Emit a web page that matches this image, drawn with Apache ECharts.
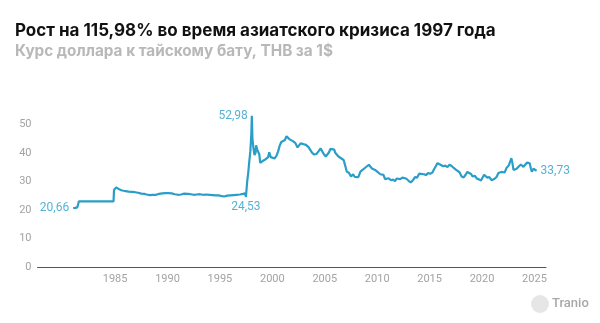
<!DOCTYPE html>
<html><head><meta charset="utf-8">
<script src="https://cdn.jsdelivr.net/npm/echarts@6/dist/echarts.min.js"></script>
<style>html,body{margin:0;padding:0;background:#fff}#c{width:600px;height:323px}</style>
</head><body><div id="c"></div>
<script>
const titleText = 'Рост на 115,98% во время азиатского кризиса 1997 года';
const subtitleText = 'Курс доллара к тайскому бату, THB за 1$';
const xTickLabels = [1985, 1990, 1995, 2000, 2005, 2010, 2015, 2020, 2025];
const yTickLabels = [0, 10, 20, 30, 40, 50];
const years = [
1981.0,1981.2,1981.4,1981.5,1981.55,1982.0,1983.0,1984.0,1984.85,1984.9,1985.0,1985.1,1985.2,1985.4,1985.6,1985.8,
1986.0,1986.3,1986.6,1986.9,1987.2,1987.5,1987.8,1988.0,1988.3,1988.6,1988.9,1989.2,1989.5,1989.8,
1990.1,1990.4,1990.7,1991.0,1991.3,1991.6,1991.9,1992.2,1992.5,1992.8,1993.1,1993.4,1993.7,1994.0,1994.3,1994.6,1994.9,
1995.2,1995.4,1995.7,1996.0,1996.3,1996.6,1996.9,1997.2,1997.4,1997.48,1997.6,1997.7,1997.8,1997.9,1998.0,1998.04,
1998.1,1998.2,1998.3,1998.4,1998.45,1998.55,1998.65,1998.75,1998.85,1998.95,1999.1,1999.3,1999.45,1999.6,1999.7,1999.85,
2000.0,2000.2,2000.4,2000.55,2000.7,2000.85,2001.0,2001.2,2001.35,2001.5,2001.65,2001.8,2002.0,2002.2,2002.4,2002.55,2002.7,2002.85,
2003.0,2003.2,2003.45,2003.6,2003.8,2004.0,2004.2,2004.4,2004.6,2004.75,2004.9,2005.1,2005.25,2005.4,2005.55,2005.7,2005.9,
2006.0,2006.15,2006.3,2006.55,2006.8,2006.95,2007.1,2007.3,2007.5,2007.7,2007.85,2008.0,2008.2,2008.4,2008.6,2008.8,
2009.0,2009.2,2009.5,2009.8,2010.0,2010.3,2010.6,2010.75,2010.9,2011.1,2011.3,2011.5,2011.7,2011.85,
2012.0,2012.2,2012.4,2012.55,2012.75,2013.0,2013.2,2013.3,2013.45,2013.6,2013.8,2014.0,2014.2,2014.45,2014.65,2014.85,
2015.05,2015.25,2015.45,2015.6,2015.75,2015.95,2016.1,2016.3,2016.5,2016.7,2016.9,2017.1,2017.3,2017.5,2017.65,2017.85,
2018.05,2018.25,2018.45,2018.6,2018.75,2018.95,2019.1,2019.3,2019.5,2019.7,2019.9,2020.05,2020.2,2020.35,2020.5,2020.7,2020.9,
2021.05,2021.2,2021.4,2021.55,2021.7,2021.85,2022.0,2022.15,2022.35,2022.55,2022.7,2022.8,2022.9,2023.0,2023.1,2023.3,2023.5,
2023.7,2023.8,2023.95,2024.1,2024.3,2024.45,2024.55,2024.65,2024.75,2024.9,2025.05,2025.2
];
const rates = [
20.66,20.7,20.9,21.0,23.0,23.0,23.0,23.0,23.0,27.0,27.5,27.9,27.6,27.2,26.9,26.7,
26.6,26.4,26.3,26.2,26.0,25.7,25.6,25.4,25.2,25.3,25.3,25.6,25.8,25.9,
25.9,25.8,25.5,25.3,25.4,25.7,25.6,25.5,25.3,25.4,25.5,25.3,25.4,25.3,25.2,25.1,25.1,
24.8,24.7,25.0,25.1,25.2,25.3,25.4,25.6,25.8,24.53,30.0,33.0,37.0,40.5,47.0,52.98,
45.0,41.5,39.2,40.0,42.6,41.2,41.5,39.5,36.5,36.6,37.2,37.6,37.0,38.5,40.2,38.5,
37.8,38.0,39.0,40.5,42.5,43.8,43.2,44.5,45.8,45.4,44.7,44.5,44.0,43.4,41.9,42.2,43.3,43.6,
43.0,42.8,42.0,41.4,40.0,39.4,39.6,40.5,41.6,41.3,39.6,38.7,39.2,40.2,41.4,41.0,41.1,
40.0,39.6,38.7,38.1,37.5,35.5,33.4,33.0,31.7,32.5,31.6,30.9,31.5,33.4,34.0,34.6,
35.2,35.8,34.5,34.0,33.4,32.5,32.3,30.8,30.4,31.1,30.4,30.6,30.1,31.0,
31.6,30.8,31.3,31.7,31.0,30.2,29.6,29.0,30.6,31.5,31.3,32.7,32.6,32.5,32.2,32.9,
32.7,33.0,34.4,35.4,36.4,36.0,35.8,35.3,35.5,35.0,35.8,35.4,34.7,34.1,33.5,33.2,
31.7,31.4,32.4,33.3,32.7,32.6,31.7,32.0,31.0,30.7,30.3,30.5,32.3,32.6,31.3,31.5,30.4,
30.2,30.9,31.6,32.9,33.5,33.3,33.6,33.1,34.8,35.6,36.2,38.1,36.3,34.0,34.6,34.4,35.2,
35.9,36.6,35.1,35.6,36.6,37.2,36.3,34.6,33.4,34.4,34.2,33.73
];
const annotations = [
  {x: 1981.0, y: 20.66, text: '20,66', pos: 'left'},
  {x: 1998.04, y: 52.98, text: '52,98', pos: 'left'},
  {x: 1997.48, y: 24.53, text: '24,53', pos: 'bottom'},
  {x: 2025.2, y: 33.73, text: '33,73', pos: 'right'}
];
const lineColor = '#2a9ec8';
const chart = echarts.init(document.getElementById('c'), null, {renderer: 'canvas'});
chart.setOption({
  animation: false,
  backgroundColor: '#fff',
  title: {
    text: titleText,
    subtext: subtitleText,
    left: 10, top: 17, itemGap: 5,
    textStyle: {fontFamily: 'Inter', fontWeight: 700, fontSize: 17, color: '#111'},
    subtextStyle: {fontFamily: 'Inter', fontWeight: 700, fontSize: 15.3, color: '#b8b8b8'}
  },
  grid: {left: 37.5, right: 54, top: 110, bottom: 56},
  xAxis: {
    type: 'value', min: 1977.6, max: 2026.1,
    splitLine: {show: false},
    axisTick: {show: false},
    axisLine: {lineStyle: {color: '#555', width: 1}},
    axisLabel: {customValues: xTickLabels, color: '#a3a3a3', fontFamily: 'Roboto', fontSize: 11, margin: 7,
      formatter: v => String(v)}
  },
  yAxis: {
    type: 'value', min: 0, max: 55,
    splitLine: {show: false},
    axisTick: {show: false},
    axisLine: {show: false},
    axisLabel: {customValues: yTickLabels, color: '#a3a3a3', fontFamily: 'Roboto', fontSize: 11, margin: 6}
  },
  series: [
    {type: 'line', data: years.map((y, i) => [y, rates[i]]), showSymbol: false, symbol: 'none',
     lineStyle: {color: lineColor, width: 2.2}, z: 2},
    {type: 'scatter', data: annotations.map(a => ({value: [a.x, a.y],
       label: {show: true, formatter: a.text, position: a.pos, distance: 4}})),
     symbolSize: 0, silent: true,
     label: {color: lineColor, fontFamily: 'Roboto', fontSize: 12}, z: 3}
  ],
  graphic: [
    {type: 'circle', shape: {cx: 540, cy: 304, r: 9}, style: {fill: '#e6e6e6'}},
    {type: 'text', left: 552, top: 297, style: {text: 'Tranio', fill: '#a8a8a8', font: '500 13px Roboto'}}
  ]
});
</script></body></html>
